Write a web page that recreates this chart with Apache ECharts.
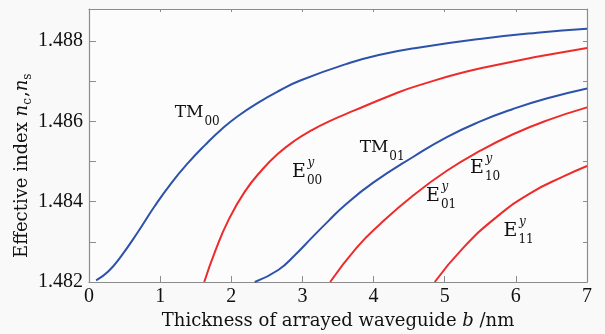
<!DOCTYPE html>
<html><head><meta charset="utf-8">
<script src="https://cdn.jsdelivr.net/npm/echarts@6/dist/echarts.min.js"></script>
<style>html,body{margin:0;padding:0;background:#f9f9f9}#c{width:605px;height:334px}</style>
</head><body><div id="c"></div>
<script>
// ---- data (thickness b /nm, effective index) ----
const TM00 = [[0.1,1.48204],[0.27,1.48226],[0.45,1.48264],[0.69,1.48325],[0.92,1.48388],[1.16,1.48447],[1.39,1.48496],[1.63,1.48541],[1.86,1.48580],[2.09,1.48613],[2.38,1.48647],[2.68,1.48677],[2.97,1.48702],[3.67,1.48746],[4.09,1.48766],[4.6,1.48783],[5.52,1.48806],[6.3,1.48821],[7.0,1.48831]];
const E00  = [[1.62,1.48200],[1.77,1.48275],[1.96,1.48354],[2.19,1.48425],[2.43,1.48479],[2.66,1.48520],[2.9,1.48553],[3.13,1.48578],[3.36,1.48599],[3.74,1.48628],[4.23,1.48664],[4.6,1.48688],[5.52,1.48733],[7.0,1.48783]];
const TM01 = [[2.33,1.48200],[2.66,1.48230],[2.9,1.48268],[3.13,1.48310],[3.36,1.48351],[3.6,1.48392],[4.0,1.48448],[4.56,1.48512],[5.03,1.48561],[5.5,1.48600],[5.96,1.48631],[6.43,1.48657],[7.0,1.48682]];
const E01  = [[3.39,1.48200],[3.76,1.48285],[4.09,1.48344],[4.56,1.48416],[5.03,1.48477],[5.5,1.48527],[5.96,1.48568],[6.43,1.48602],[7.0,1.48635]];
const E11  = [[4.86,1.48200],[5.26,1.48285],[5.73,1.48362],[6.2,1.48421],[6.67,1.48463],[7.0,1.48489]];

const xTicks = ['0','1','2','3','4','5','6','7'];
const yTickLabels = ['1.482','1.484','1.486','1.488'];

// curve labels: main text, subscript, superscript, anchor (b, n)
const labelMain = ['TM','E','TM','E','E','E'];
const labelSub  = ['00','00','01','01','10','11'];
const labelSup  = ['','y','','y','y','y'];
const labelB    = [1.406, 2.952, 4.006, 4.836, 5.454, 5.925];
const labelN    = [1.48621, 1.48474, 1.48535, 1.48414, 1.48485, 1.48327];

const BLUE = '#2c52aa', RED = '#ee2b2b';
const SERIF = '"DejaVu Serif", serif';
const TICKF = '"Liberation Serif", serif';
const AXC = '#8c8c8c';

const chart = echarts.init(document.getElementById('c'), null, {width:605, height:334});

const curves = [
  {name:'TM00', data:TM00, color:BLUE},
  {name:'E00', data:E00, color:RED},
  {name:'TM01', data:TM01, color:BLUE},
  {name:'E01', data:E01, color:RED},
  {name:'E11', data:E11, color:RED}
];

const xBase = {type:'value', min:0, max:7, interval:1, splitLine:{show:false}};
const yBase = {type:'value', min:1.482, max:1.4888, interval:0.001, splitLine:{show:false}, scale:true};

chart.setOption({
  animation:false,
  backgroundColor:'#f9f9f9',
  grid:{left:89, right:18, top:9, bottom:52, show:true, backgroundColor:'#fcfcfc', borderWidth:0, outerBoundsMode:'none'},
  xAxis:[
    Object.assign({}, xBase, {position:'bottom',
      axisLine:{show:true, onZero:false, lineStyle:{color:AXC, width:1.2}},
      axisTick:{show:true, inside:true, length:6, lineStyle:{color:AXC}},
      axisLabel:{margin:5, color:'#111', fontFamily:TICKF, fontSize:20,
        formatter:(v)=>{const i=Math.round(v); return Math.abs(v-i)<1e-9 ? xTicks[i] : '';}},
      name:'{r|Thickness of arrayed waveguide }{i|b}{r| /nm}', nameLocation:'middle', nameGap:28,
      nameTextStyle:{rich:{r:{fontFamily:SERIF, fontSize:18, color:'#111'}, i:{fontFamily:SERIF, fontSize:18, fontStyle:'italic', color:'#111'}}}
    }),
    Object.assign({}, xBase, {position:'top',
      axisLine:{show:true, onZero:false, lineStyle:{color:AXC, width:1.2}},
      axisTick:{show:true, inside:true, length:3, lineStyle:{color:AXC}},
      axisLabel:{show:false}})
  ],
  yAxis:[
    Object.assign({}, yBase, {position:'left',
      axisLine:{show:true, onZero:false, lineStyle:{color:AXC, width:1.2}},
      axisTick:{show:true, inside:true, length:7, lineStyle:{color:AXC}},
      axisLabel:{margin:6, color:'#111', fontFamily:TICKF, fontSize:20, showMaxLabel:false,
        formatter:(v)=>{const k=Math.round((v-1.482)*1000); if (Math.abs((v-1.482)*1000-k)>1e-6) return ''; return k%2===0 ? (yTickLabels[k/2]||'') : '';}}
    }),
    Object.assign({}, yBase, {position:'right',
      axisLine:{show:true, onZero:false, lineStyle:{color:AXC, width:1.2}},
      axisTick:{show:true, inside:true, length:4, lineStyle:{color:AXC}},
      axisLabel:{show:false}})
  ],
  series: curves.map(c=>({
    type:'line', name:c.name, data:c.data, xAxisIndex:0, yAxisIndex:0,
    showSymbol:false, symbol:'none', smooth:0.5,
    lineStyle:{color:c.color, width:2}, clip:true, z:5
  }))
});

// text measuring
const mctx = document.createElement('canvas').getContext('2d');
function tw(text, font){ mctx.font = font; return mctx.measureText(text).width; }

const graphics = [];
const mainFont = (t)=> (t==='E' ? '19px ' : '17px ') + SERIF;
const subFont = '12px ' + SERIF;
const supFont = 'italic 12px ' + SERIF;
for (let i=0;i<labelMain.length;i++){
  const p = chart.convertToPixel({xAxisIndex:0, yAxisIndex:0}, [labelB[i], labelN[i]]);
  const mf = mainFont(labelMain[i]);
  const w = tw(labelMain[i], mf);
  graphics.push({type:'text', x:p[0], y:p[1], silent:true, z:50,
    style:{text:labelMain[i], font:mf, fill:'#111', textAlign:'center', textVerticalAlign:'middle', align:'center', verticalAlign:'middle'}});
  graphics.push({type:'text', x:p[0]+w/2+1, y:p[1]+9, silent:true, z:50,
    style:{text:labelSub[i], font:subFont, fill:'#111', textAlign:'left', textVerticalAlign:'middle', align:'left', verticalAlign:'middle'}});
  if (labelSup[i]) {
    graphics.push({type:'text', x:p[0]+w/2+1.5, y:p[1]-9, silent:true, z:50,
      style:{text:labelSup[i], font:supFont, fill:'#111', textAlign:'left', textVerticalAlign:'middle', align:'left', verticalAlign:'middle'}});
  }
}

// rotated y-axis title: Effective index n_c, n_s
const yTitleParts = [
  {t:'Effective index ', f:'18px '+SERIF, dy:0},
  {t:'n', f:'italic 18px '+SERIF, dy:0},
  {t:'c', f:'12px '+SERIF, dy:6},
  {t:',', f:'18px '+SERIF, dy:0},
  {t:'n', f:'italic 18px '+SERIF, dy:0},
  {t:'s', f:'12px '+SERIF, dy:6}
];
let cur = 0;
const kids = [];
yTitleParts.forEach(pt=>{
  kids.push({type:'text', x:cur, y:pt.dy, silent:true,
    style:{text:pt.t, font:pt.f, fill:'#111', textAlign:'left', textVerticalAlign:'middle', align:'left', verticalAlign:'middle'}});
  cur += tw(pt.t, pt.f) + (pt.f.indexOf('12px')>=0 ? 1 : 0);
});
graphics.push({type:'group', x:22, y:258, rotation:Math.PI/2, children:kids, silent:true});

chart.setOption({graphic:graphics});
</script>
</body></html>
